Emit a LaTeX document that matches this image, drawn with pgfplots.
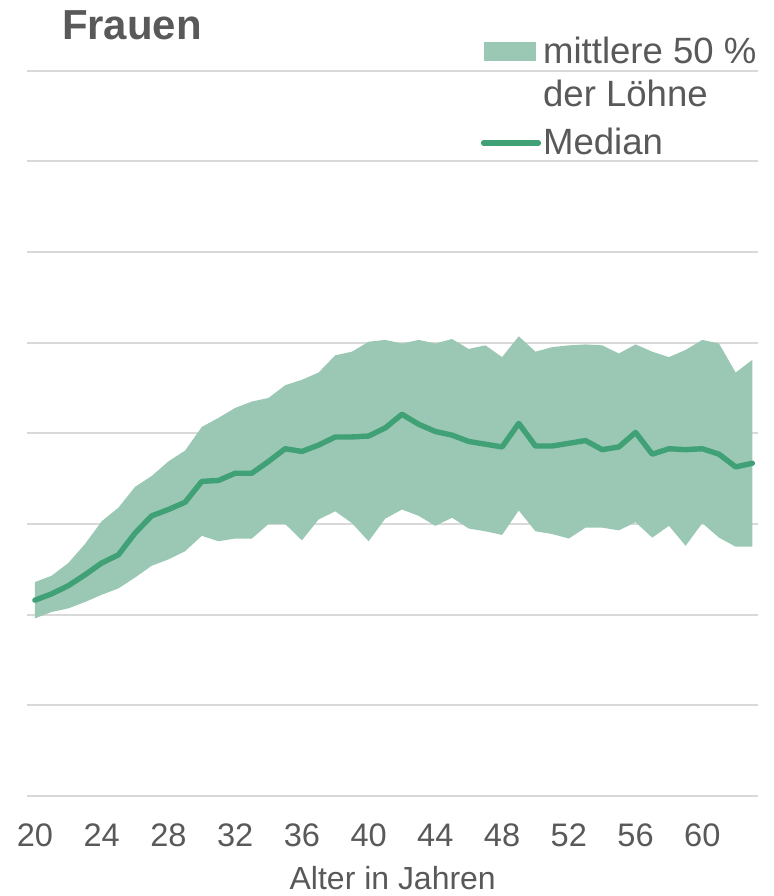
\documentclass[border=0pt]{standalone}
\usepackage{fontspec}
\setmainfont{Liberation Sans}
\usepackage{pgfplots}
\usepackage{pgfplotstable}
\pgfplotsset{compat=1.18}
\usepgfplotslibrary{fillbetween}
\definecolor{bandgreen}{RGB}{155,200,180}
\definecolor{medgreen}{RGB}{64,160,118}
\definecolor{txtgray}{RGB}{89,89,89}
\definecolor{gridgray}{RGB}{217,217,217}

% age, lower quartile, median, upper quartile (grid units)
\pgfplotstableread{
age lo   med  hi
20  1.96 2.16 2.36
21  2.03 2.23 2.43
22  2.07 2.32 2.57
23  2.14 2.44 2.78
24  2.22 2.57 3.03
25  2.29 2.66 3.18
26  2.41 2.90 3.41
27  2.54 3.09 3.53
28  2.61 3.16 3.69
29  2.70 3.24 3.81
30  2.87 3.47 4.07
31  2.81 3.48 4.17
32  2.84 3.56 4.28
33  2.84 3.56 4.35
34  3.00 3.69 4.39
35  3.00 3.83 4.53
36  2.82 3.80 4.59
37  3.05 3.87 4.67
38  3.14 3.96 4.86
39  3.01 3.96 4.90
40  2.81 3.97 5.01
41  3.06 4.06 5.03
42  3.16 4.21 4.99
43  3.09 4.10 5.03
44  2.98 4.02 4.99
45  3.07 3.98 5.04
46  2.95 3.91 4.93
47  2.92 3.88 4.97
48  2.88 3.85 4.84
49  3.15 4.11 5.07
50  2.92 3.86 4.90
51  2.89 3.86 4.95
52  2.84 3.89 4.97
53  2.96 3.92 4.98
54  2.96 3.82 4.97
55  2.93 3.85 4.88
56  3.02 4.01 4.98
57  2.85 3.77 4.90
58  2.98 3.83 4.84
59  2.76 3.82 4.92
60  3.01 3.83 5.03
61  2.85 3.77 4.99
62  2.75 3.63 4.67
63  2.75 3.67 4.81
}\women

\begin{document}
\begin{tikzpicture}
\path (-13.65pt,-49.5pt) rectangle (373.35pt,398.5pt);
\begin{axis}[
    scale only axis,
    width=365.85pt, height=363.2pt,
    xmin=19.54, xmax=63.35, ymin=0, ymax=8,
    axis line style={draw=none},
    major tick length=0pt,
    xtick={20,24,...,60},
    ytick={0,1,...,8}, yticklabels={},
    ymajorgrids, grid style={color=gridgray, line width=1pt},
    /pgf/number format/assume math mode=true,
    tick label style={font=\fontsize{16.3}{19}\selectfont, text=txtgray},
    xticklabel shift=10.5pt,
    xlabel={Alter in Jahren},
    xlabel style={font=\fontsize{16}{19}\selectfont, text=txtgray,
        at={(axis description cs:0.5,0)}, anchor=base, yshift=-46.5pt},
    clip=false,
]
\addplot[name path=hi, draw=none] table[x=age, y=hi] {\women};
\addplot[name path=lo, draw=none] table[x=age, y=lo] {\women};
\addplot[fill=bandgreen, draw=none] fill between[of=hi and lo];
\addplot[medgreen, line width=2.7pt, line join=round, line cap=round] table[x=age, y=med] {\women};
\end{axis}
% title and legend
\node[anchor=base west, text=txtgray, font=\fontsize{21}{25}\selectfont\bfseries, inner sep=0pt] at (17.2pt,378.85pt) {Frauen};
\fill[bandgreen] (228.85pt,368pt) rectangle (254.7pt,377.35pt);
\node[anchor=base west, text=txtgray, font=\fontsize{18.3}{22}\selectfont, inner sep=0pt] at (258pt,366.85pt) {mittlere 50 \%};
\node[anchor=base west, text=txtgray, font=\fontsize{18.3}{22}\selectfont, inner sep=0pt] at (258pt,345.15pt) {der Löhne};
\draw[medgreen, line width=2.7pt, line cap=round] (228.4pt,326.85pt) -- (255.85pt,326.85pt);
\node[anchor=base west, text=txtgray, font=\fontsize{18.3}{22}\selectfont, inner sep=0pt] at (258pt,321pt) {Median};
\end{tikzpicture}
\end{document}
